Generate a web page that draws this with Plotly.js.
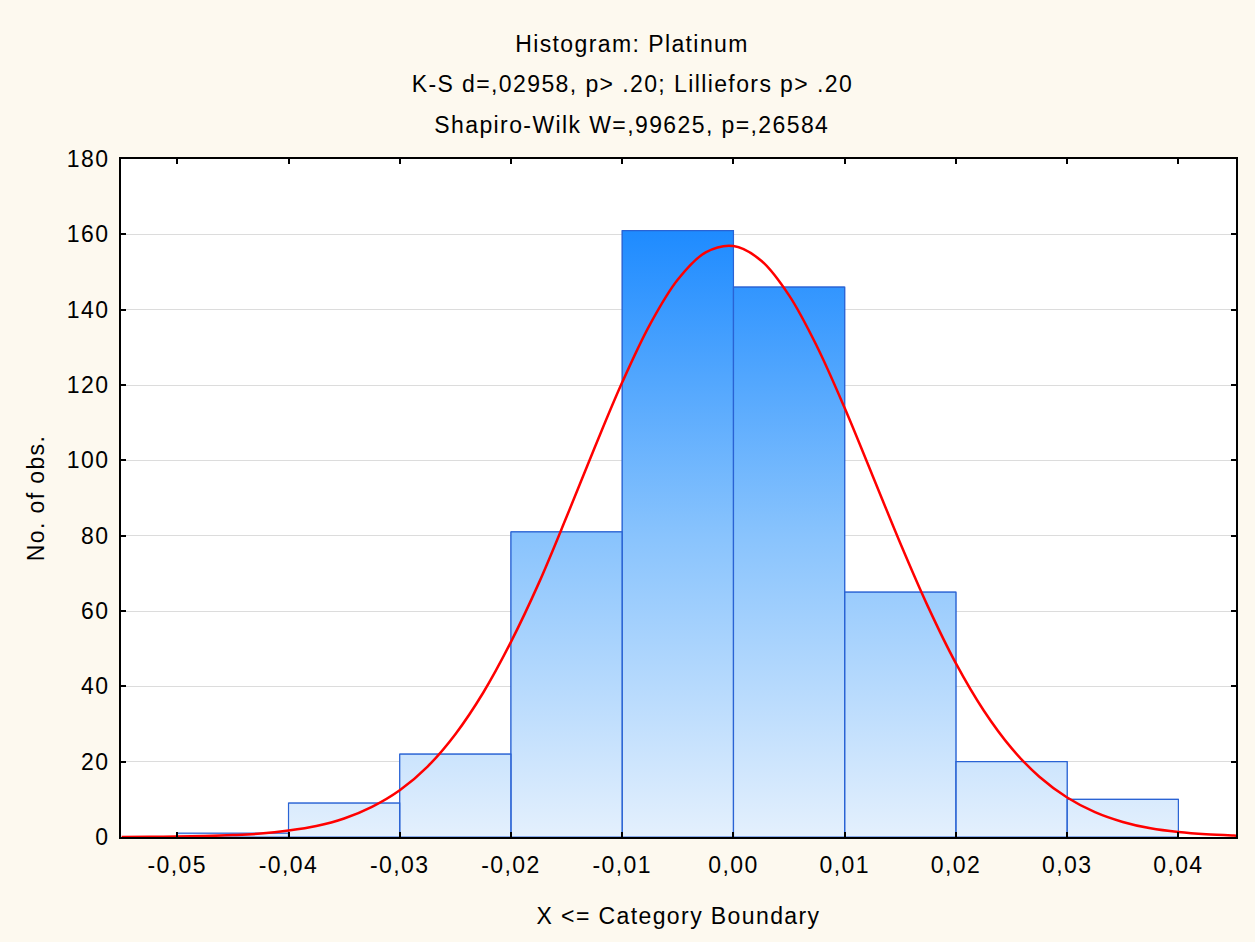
<!DOCTYPE html>
<html>
<head>
<meta charset="utf-8">
<script src="https://cdn.plot.ly/plotly-3.0.1.min.js"></script>
<style>
  html, body { margin: 0; padding: 0; background: #fdf9ef; }
  #chart .main-svg text { letter-spacing: 1.4px; }
</style>
</head>
<body>
<div id="chart" style="width:1255px;height:942px;"></div>
<script>
// ---- data ----
const binLower = [-0.05, -0.04, -0.03, -0.02, -0.01, 0.00, 0.01, 0.02, 0.03];
const binWidth = 0.01;
const counts = [1, 9, 22, 81, 161, 146, 65, 20, 10];

// fitted normal curve, heights every 0.0025
const curveX = [-0.055, -0.0525, -0.05, -0.0475, -0.045, -0.0425, -0.04, -0.0375, -0.035, -0.0325,
                -0.03, -0.0275, -0.025, -0.0225, -0.02, -0.0175, -0.015, -0.0125, -0.01, -0.0075,
                -0.005, -0.0025, 0.0, 0.0025, 0.005, 0.0075, 0.01, 0.0125, 0.015, 0.0175,
                0.02, 0.0225, 0.025, 0.0275, 0.03, 0.0325, 0.035, 0.0375, 0.04, 0.0425, 0.045, 0.0452];
const curveY = [0.03, 0.06, 0.12, 0.25, 0.5, 0.9, 1.7, 2.9, 4.9, 8.0,
                12.4, 18.7, 27.3, 38.3, 51.8, 67.4, 85.0, 103.2, 120.7, 136.1,
                148.0, 155.2, 156.9, 153.0, 143.8, 130.3, 113.9, 96.0, 78.0, 61.1,
                46.1, 33.6, 23.6, 16.0, 10.5, 6.6, 4.0, 2.3, 1.3, 0.7, 0.38, 0.36];

const xTickVals = [-0.05, -0.04, -0.03, -0.02, -0.01, 0.00, 0.01, 0.02, 0.03, 0.04];
const xTickText = ["-0,05", "-0,04", "-0,03", "-0,02", "-0,01", "0,00", "0,01", "0,02", "0,03", "0,04"];
const yTickVals = [0, 20, 40, 60, 80, 100, 120, 140, 160, 180];

const titleLines = [
  "Histogram: Platinum",
  "K-S d=,02958, p> .20; Lilliefors p> .20",
  "Shapiro-Wilk W=,99625, p=,26584"
];

// ---- build traces ----
const binCenters = binLower.map(v => v + binWidth / 2);

// bar outlines built from the data so they can carry a vertical gradient fill
const polyX = [], polyY = [];
binLower.forEach((x0, i) => {
  const x1 = x0 + binWidth, h = counts[i];
  polyX.push(x0, x0, x1, x1, x0, null);
  polyY.push(0, h, h, 0, 0, null);
});
const maxCount = Math.max(...counts);

const barTrace = {
  type: 'bar',
  x: binCenters,
  y: counts,
  width: binWidth,
  marker: { color: '#8cc3fb', line: { color: '#2a63d4', width: 1 } },
  hoverinfo: 'x+y'
};

const gradTrace = {
  type: 'scatter',
  mode: 'lines',
  x: polyX,
  y: polyY,
  fill: 'toself',
  fillgradient: {
    type: 'vertical',
    start: 0,
    stop: maxCount,
    colorscale: [[0, '#e4f0fd'], [0.5, '#88c3fd'], [1, '#1e8bff']]
  },
  line: { color: '#2a63d4', width: 1.2 },
  hoverinfo: 'skip'
};

const curveTrace = {
  type: 'scatter',
  mode: 'lines',
  x: curveX,
  y: curveY,
  line: { color: '#ff0000', width: 2.5, shape: 'spline', smoothing: 1 },
  hoverinfo: 'skip'
};

const plotTop = 159, plotBottom = 837, plotH = plotBottom - plotTop;
function paperY(px) { return (plotBottom - px) / plotH; }
const FS = 23;

const layout = {
  width: 1255,
  height: 942,
  margin: { l: 121, r: 19, t: 159, b: 105 },
  paper_bgcolor: '#fdf9ef',
  plot_bgcolor: '#ffffff',
  showlegend: false,
  bargap: 0,
  font: { family: 'Liberation Sans, Arial, sans-serif', size: FS, color: '#000000' },
  title: {
    text: titleLines[0],
    xref: 'container', x: 632 / 1255, xanchor: 'center',
    yref: 'container', y: 1 - 44 / 942, yanchor: 'middle',
    font: { size: FS, color: '#000000' }
  },
  annotations: [
    { text: titleLines[1], xref: 'paper', x: (632 - 121) / (1236 - 121), xanchor: 'center',
      yref: 'paper', y: paperY(84), yanchor: 'middle', showarrow: false, font: { size: FS } },
    { text: titleLines[2], xref: 'paper', x: (632 - 121) / (1236 - 121), xanchor: 'center',
      yref: 'paper', y: paperY(125), yanchor: 'middle', showarrow: false, font: { size: FS } }
  ],
  xaxis: {
    range: [-0.05506, 0.04518],
    tickvals: xTickVals,
    ticktext: xTickText,
    ticks: 'inside', ticklen: 5, tickwidth: 2, tickcolor: '#000',
    showline: true, linewidth: 2, linecolor: '#000', mirror: 'ticks',
    showgrid: false, zeroline: false,
    ticklabelstandoff: 6,
    title: { text: 'X <= Category Boundary', font: { size: FS }, standoff: 31 }
  },
  yaxis: {
    range: [0, 180],
    tickvals: yTickVals,
    ticks: 'inside', ticklen: 5, tickwidth: 2, tickcolor: '#000',
    showline: true, linewidth: 2, linecolor: '#000', mirror: 'ticks',
    showgrid: true, gridcolor: '#dcdcdc', gridwidth: 1,
    zeroline: false,
    ticklabelstandoff: 5,
    title: { text: 'No. of obs.', font: { size: FS }, standoff: 20 }
  }
};

Plotly.newPlot('chart', [barTrace, gradTrace, curveTrace], layout, { displayModeBar: false, staticPlot: true });
</script>
</body>
</html>
